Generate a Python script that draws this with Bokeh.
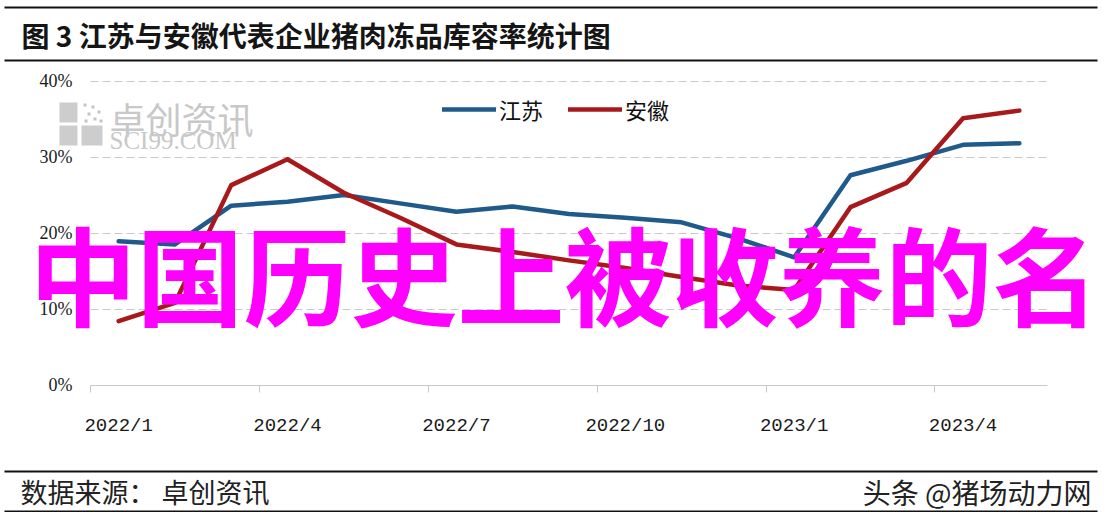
from bokeh.plotting import figure
from bokeh.models import (Range1d, FixedTicker, Label, BoxAnnotation, Legend, LegendItem,
                          LinearAxis, Grid)
from bokeh.embed import file_html
from bokeh.resources import INLINE

# ---------------- data ----------------
months = ["2022/1", "2022/2", "2022/3", "2022/4", "2022/5", "2022/6", "2022/7", "2022/8",
          "2022/9", "2022/10", "2022/11", "2022/12", "2023/1", "2023/2", "2023/3", "2023/4", "2023/5"]
jiangsu = [18.9, 18.5, 23.6, 24.1, 25.0, 23.9, 22.8, 23.5, 22.5, 22.0, 21.4, 19.3, 16.8, 27.6, 29.5, 31.6, 31.8]
anhui = [8.4, 10.8, 26.3, 29.7, 25.3, 22.0, 18.5, 17.5, 16.4, 15.4, 14.2, 13.1, 12.5, 23.4, 26.6, 35.1, 36.1]
series_names = ["江苏", "安徽"]
y_ticks = [0, 10, 20, 30, 40]
y_tick_labels = ["0%", "10%", "20%", "30%", "40%"]
x_label_months = ["2022/1", "2022/4", "2022/7", "2022/10", "2023/1", "2023/4"]

title_text = "图 3 江苏与安徽代表企业猪肉冻品库容率统计图"
source_text = "数据来源： 卓创资讯"
credit_text = "头条 @猪场动力网"
watermark_cn = "卓创资讯"
watermark_en = "SCI99.COM"
overlay_text = "中国历史上被收养的名"

# ---------------- layout geometry (page pixels) ----------------
W, H = 1100, 512           # canvas; placed at page offset (8, 8)
OX, OY = 8, 8
PLOT_L, PLOT_R = 98, 1055  # plot area left / right edges on the page
Y0_PAGE, Y40_PAGE = 392.5, 88.5

n = len(months)
ppx = (PLOT_R - PLOT_L) / n                      # pixels per month
x_start = -0.5 - (PLOT_L - OX) / ppx
x_end = (n - 0.5) + (OX + W - PLOT_R) / ppx
ppy = (Y0_PAGE - Y40_PAGE) / y_ticks[-1]
y_end = y_ticks[-1] + (Y40_PAGE - OY) / ppy
y_start = -(OY + H - Y0_PAGE) / ppy


def sx(page_x):
    return page_x - OX


def sy(page_y):
    return OY + H - page_y


CJK = "Noto Sans CJK SC"
BLUE = "#1f5a8a"
RED = "#a8191b"

p = figure(width=W, height=H, x_range=Range1d(x_start, x_end), y_range=Range1d(y_start, y_end),
           output_backend="svg", toolbar_location=None, min_border=0,
           x_axis_location=None, y_axis_location=None)
p.outline_line_color = None
p.background_fill_color = "white"
p.border_fill_color = "white"
for g in p.grid:
    g.visible = False

# ---------------- header / footer rules and texts ----------------
for page_y in [15, 68, 479, 519]:
    p.add_layout(BoxAnnotation(left=sx(12), right=sx(1105), top=sy(page_y - 1), bottom=sy(page_y + 1),
                               left_units="screen", right_units="screen", top_units="screen",
                               bottom_units="screen", fill_color="#111111", fill_alpha=1,
                               line_color=None, level="overlay"))
p.add_layout(Label(x=sx(29), y=sy(42), x_units="screen", y_units="screen", text=title_text,
                   text_font=CJK, text_font_size="28px", text_font_style="bold",
                   text_color="#151515", text_baseline="middle"))
p.add_layout(Label(x=sx(28), y=sy(499), x_units="screen", y_units="screen", text=source_text,
                   text_font=CJK, text_font_size="27px", text_color="#222222", text_baseline="middle"))
p.add_layout(Label(x=sx(1099), y=sy(499), x_units="screen", y_units="screen", text=credit_text,
                   text_font=CJK, text_font_size="28px", text_color="#222222", text_baseline="middle",
                   text_align="right"))

# ---------------- watermark ----------------
p.add_layout(Label(x=sx(117), y=sy(125), x_units="screen", y_units="screen", text=watermark_cn,
                   text_font=CJK, text_font_size="36px", text_color="#c8c8c8",
                   text_baseline="middle", level="underlay"))
p.add_layout(Label(x=sx(117), y=sy(148), x_units="screen", y_units="screen", text=watermark_en,
                   text_font="Liberation Serif", text_font_size="25px", text_color="#c8c8c8",
                   text_baseline="middle", level="underlay"))
for (l, r, t, b) in [(67, 85, 110, 130), (67, 85, 133, 153), (89, 110, 133, 153)]:
    p.add_layout(BoxAnnotation(left=sx(l), right=sx(r), top=sy(t), bottom=sy(b),
                               left_units="screen", right_units="screen", top_units="screen",
                               bottom_units="screen", fill_color="#cdcdcd", fill_alpha=1,
                               line_color=None, level="underlay"))
for (l, t) in [(91, 111), (99, 113), (105, 118), (95, 120), (101, 125), (92, 127), (107, 127)]:
    p.add_layout(BoxAnnotation(left=sx(l), right=sx(l + 3), top=sy(t), bottom=sy(t + 3),
                               left_units="screen", right_units="screen", top_units="screen",
                               bottom_units="screen", fill_color="#c4c4c4", fill_alpha=1,
                               line_color=None, level="underlay"))

# ---------------- axes ----------------
yaxis = LinearAxis(fixed_location=-0.5, bounds=(0, y_ticks[-1]), ticker=FixedTicker(ticks=y_ticks))
yaxis.major_label_overrides = {t: s for t, s in zip(y_ticks, y_tick_labels)}
yaxis.axis_line_color = None
yaxis.major_tick_line_color = None
yaxis.minor_tick_line_color = None
yaxis.major_tick_out = 0
yaxis.major_label_standoff = 18
yaxis.major_label_text_font = "Liberation Serif"
yaxis.major_label_text_font_size = "18px"
yaxis.major_label_text_color = "#1a1a1a"
p.add_layout(yaxis, "left")

x_tick_pos = [months.index(m) for m in x_label_months]
xaxis = LinearAxis(fixed_location=0, bounds=(-0.5, n - 0.5),
                   ticker=FixedTicker(ticks=x_tick_pos, minor_ticks=[t - 0.5 for t in x_tick_pos]))
xaxis.major_label_overrides = {t: m for t, m in zip(x_tick_pos, x_label_months)}
xaxis.axis_line_color = "#c8c8c8"
xaxis.axis_line_width = 1
xaxis.major_tick_line_color = None
xaxis.major_tick_out = 0
xaxis.major_tick_in = 0
xaxis.minor_tick_line_color = "#c8c8c8"
xaxis.minor_tick_out = 7
xaxis.minor_tick_in = 0
xaxis.major_label_standoff = 23
xaxis.major_label_text_font = "Liberation Mono"
xaxis.major_label_text_font_size = "19px"
xaxis.major_label_text_color = "#1a1a1a"
p.add_layout(xaxis, "below")

grid_ticks = [t for t in y_ticks if t > 0]
try:
    ygrid = Grid(dimension=1, ticker=FixedTicker(ticks=grid_ticks), cross_bounds=(-0.5, n - 0.5),
                 grid_line_color="#c8c8c8", grid_line_dash="8 4", grid_line_width=1)
    p.add_layout(ygrid)
except Exception:
    p.segment(x0=[-0.5] * len(grid_ticks), x1=[n - 0.5] * len(grid_ticks), y0=grid_ticks, y1=grid_ticks,
              line_color="#c8c8c8", line_dash="8 4", line_width=1)

# ---------------- series ----------------
idx = list(range(n))
r1 = p.line(idx, jiangsu, line_color=BLUE, line_width=4.5, line_join="round", line_cap="round")
r2 = p.line(idx, anhui, line_color=RED, line_width=4.5, line_join="round", line_cap="round")

legend = Legend(items=[LegendItem(label=series_names[0], renderers=[r1]),
                       LegendItem(label=series_names[1], renderers=[r2])],
                location=(442, 387), orientation="horizontal", padding=0, margin=0,
                spacing=25, glyph_width=54, glyph_height=24, label_height=24, label_standoff=3,
                label_text_font=CJK, label_text_font_size="22px", label_text_color="#111111",
                border_line_color=None, background_fill_alpha=0)
p.add_layout(legend)

# ---------------- overlay banner text ----------------
p.add_layout(Label(x=sx(37), y=sy(279), x_units="screen", y_units="screen", text=overlay_text,
                   text_font=CJK, text_font_size="107px", text_font_style="bold",
                   text_color="#ff00ff", text_baseline="middle", level="overlay"))

open("out.html", "w").write(file_html(p, INLINE))
